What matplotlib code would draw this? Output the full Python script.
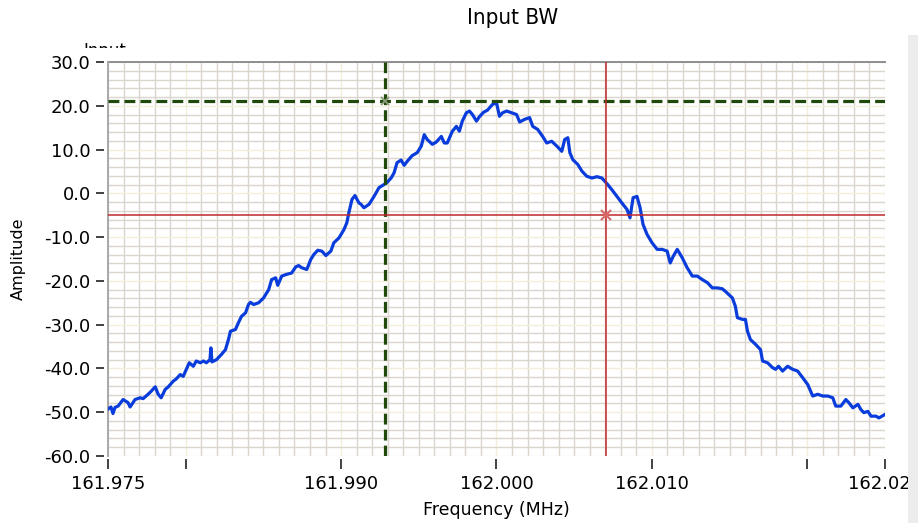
import matplotlib
matplotlib.use('Agg')
import matplotlib.pyplot as plt
import numpy as np
from matplotlib.patches import Rectangle
from matplotlib.transforms import Bbox

# Trace: offset from 162.000 MHz (kHz) and amplitude
offset_khz = [
    -25.00, -24.81, -24.68, -24.55, -24.35, -24.03, -23.71, -23.58, -23.26, -22.93,
    -22.74, -22.42, -22.22, -21.96, -21.77, -21.58, -21.32, -21.12, -20.80, -20.61,
    -20.35, -20.16, -19.96, -19.77, -19.51, -19.32, -19.06, -18.86, -18.67, -18.44,
    -18.38, -18.31, -18.02, -17.70, -17.44, -17.25, -17.12, -16.80, -16.60, -16.41,
    -16.15, -15.96, -15.83, -15.63, -15.31, -14.99, -14.66, -14.47, -14.21, -14.08,
    -13.82, -13.50, -13.18, -12.92, -12.73, -12.53, -12.21, -11.95, -11.76, -11.50,
    -11.24, -10.98, -10.66, -10.47, -10.14, -9.82, -9.63, -9.50, -9.30, -9.11,
    -8.85, -8.72, -8.53, -8.20, -7.88, -7.56, -7.24, -7.04, -6.78, -6.59,
    -6.40, -6.14, -5.94, -5.75, -5.43, -5.10, -4.84, -4.65, -4.46, -4.13,
    -3.88, -3.55, -3.36, -3.17, -2.84, -2.58, -2.39, -2.20, -1.94, -1.74,
    -1.55, -1.29, -1.10, -0.84, -0.58, -0.26, 0.00, 0.19, 0.39, 0.65,
    0.97, 1.29, 1.49, 1.81, 2.13, 2.33, 2.65, 2.97, 3.23, 3.55,
    3.88, 4.20, 4.39, 4.59, 4.72, 4.91, 5.23, 5.49, 5.81, 6.14,
    6.46, 6.78, 7.11, 7.43, 7.75, 8.07, 8.40, 8.59, 8.79, 9.04,
    9.24, 9.43, 9.69, 10.01, 10.34, 10.66, 10.98, 11.18, 11.37, 11.63,
    11.95, 12.27, 12.60, 12.92, 13.24, 13.57, 13.89, 14.21, 14.53, 14.73,
    15.18, 15.37, 15.50, 15.83, 16.02, 16.15, 16.34, 16.67, 16.99, 17.12,
    17.44, 17.76, 17.96, 18.15, 18.41, 18.73, 19.06, 19.38, 19.70, 20.03,
    20.35, 20.67, 20.99, 21.32, 21.64, 21.83, 22.16, 22.48, 22.67, 22.93,
    23.26, 23.45, 23.64, 23.90, 24.10, 24.42, 24.61, 25.00,
]
amplitude = [
    -49.3, -48.8, -50.3, -48.9, -48.6, -47.1, -47.8, -48.8, -47.1, -46.7,
    -46.9, -45.9, -45.2, -44.2, -45.9, -46.7, -44.8, -44.2, -42.9, -42.4,
    -41.4, -41.8, -40.2, -38.7, -39.5, -38.3, -38.7, -38.3, -38.7, -38.0,
    -35.3, -38.5, -38.0, -36.8, -35.7, -33.4, -31.5, -31.1, -29.5, -28.1,
    -27.3, -25.4, -24.9, -25.4, -25.0, -23.9, -22.0, -19.7, -19.3, -21.0,
    -18.9, -18.5, -18.2, -16.8, -16.5, -17.0, -17.4, -15.1, -14.0, -13.0,
    -13.2, -14.2, -13.2, -11.3, -10.2, -8.3, -6.7, -4.4, -1.4, -0.5,
    -2.2, -2.5, -3.3, -2.5, -0.7, 1.3, 2.0, 2.5, 3.5, 4.7,
    7.0, 7.6, 6.4, 7.3, 8.6, 9.3, 10.8, 13.4, 12.3, 11.2,
    11.7, 13.0, 11.5, 11.5, 14.2, 15.3, 14.2, 16.5, 18.4, 18.8,
    18.0, 16.5, 17.5, 18.5, 19.0, 20.3, 20.7, 17.6, 18.4, 18.8,
    18.4, 18.0, 16.3, 16.9, 17.3, 15.3, 14.6, 13.0, 11.5, 11.9,
    10.8, 9.6, 12.3, 12.7, 9.3, 7.7, 6.6, 5.1, 3.9, 3.5,
    3.8, 3.5, 2.2, 0.8, -0.7, -2.2, -3.7, -5.6, -1.0, -0.7,
    -3.3, -7.1, -9.4, -11.3, -12.8, -12.8, -13.2, -15.9, -14.4, -12.8,
    -14.7, -17.0, -18.9, -18.9, -19.7, -20.4, -21.6, -21.6, -21.8, -22.4,
    -23.9, -25.8, -28.4, -28.8, -28.8, -31.5, -33.4, -34.5, -35.7, -38.3,
    -38.7, -39.8, -40.2, -39.5, -40.6, -39.5, -40.2, -40.6, -42.1, -43.7,
    -46.3, -45.9, -46.3, -46.3, -46.7, -48.6, -48.6, -47.1, -47.8, -49.0,
    -48.2, -49.4, -50.1, -49.8, -50.9, -50.9, -51.3, -50.5,
]
center_mhz = 162.0

# Cursors (green = cursor 1, red = cursor 2)
cursor1_freq = 161.99283
cursor1_amp = 21.2
cursor2_freq = 162.00704
cursor2_amp = -5.0

x_range = (161.975, 162.025)
y_range = (-60.0, 30.0)
x_ticks = [161.975, 161.980, 161.990, 162.000, 162.010, 162.020, 162.025]
x_tick_labels = ['161.975', '', '161.990', '162.000', '162.010', '', '162.025']
y_ticks = [-60, -50, -40, -30, -20, -10, 0, 10, 20, 30]

freq_mhz = center_mhz + np.array(offset_khz) / 1000.0

W, H = 918, 523
fig = plt.figure(figsize=(W / 100, H / 100), dpi=100)
ax = fig.add_axes([108 / W, 1 - 456 / H, (885 - 108) / W, (456 - 62) / H])

# grid: gray every 1 kHz / 2 units, cream at the major positions
ax.set_xlim(*x_range)
ax.set_ylim(*y_range)
ax.set_xticks(x_ticks)
ax.set_xticklabels(x_tick_labels)
ax.set_xticks(np.arange(161.975, 162.0251, 0.001), minor=True)
ax.set_yticks(y_ticks)
ax.set_yticklabels([f'{v:.1f}' for v in y_ticks])
ax.set_yticks(np.arange(-60, 31, 2), minor=True)
ax.grid(True, which='minor', color='#DAD6CD', linewidth=1.0)
ax.grid(True, which='major', color='#F2EEDB', linewidth=1.0)
ax.set_axisbelow(True)

ax.tick_params(which='minor', length=0)
ax.tick_params(axis='y', which='major', length=6, width=1.3, color='#333333',
               pad=3.5, labelsize=13)
ax.tick_params(axis='x', which='major', length=7, width=1.3, color='#333333',
               pad=4, labelsize=13)

# ticks sit a few pixels away from the plot frame
ax.spines['left'].set_position(('outward', 3))
ax.spines['bottom'].set_position(('outward', 2.5))
for side in ['left', 'bottom', 'right']:
    ax.spines[side].set_visible(False)
ax.spines['top'].set_color('#8E8E8E')
ax.spines['top'].set_linewidth(1.4)
ax.plot([0, 0], [0, 1], transform=ax.transAxes, color='#A8A8A8', lw=1.4,
        clip_on=False, zorder=3)

# trace
ax.plot(freq_mhz, amplitude, color='#0A3CDC', linewidth=2.3, zorder=4)

# cursors
ax.axvline(cursor1_freq, color='#1F4A0C', linewidth=2.3, dashes=(3.4, 1.6), zorder=5)
ax.axhline(cursor1_amp, color='#1F4A0C', linewidth=2.3, dashes=(3.4, 1.6), zorder=5)
ax.axvline(cursor2_freq, color='#C0282A', linewidth=1.1, zorder=5)
ax.axhline(cursor2_amp, color='#C0282A', linewidth=1.1, zorder=5)
ax.plot(cursor1_freq, cursor1_amp, marker='x', color='#8C9C7C', markersize=6,
        markeredgewidth=1.3, zorder=6)
ax.plot(cursor2_freq, cursor2_amp, marker='x', color='#D86A6A', markersize=7,
        markeredgewidth=1.5, zorder=6)

ax.set_xlabel('Frequency (MHz)', fontsize=12.5, va='center')
ax.xaxis.set_label_coords(0.5, (456 - 510) / 394)
ax.set_ylabel('Amplitude', fontsize=11.5, va='center')
ax.yaxis.set_label_coords((18 - 108) / 777, 0.5)

fig.text(513 / W, 1 - 18 / H, 'Input BW', ha='center', va='center', fontsize=16,
         family=['Liberation Sans Narrow', 'DejaVu Sans'], fontstretch='condensed')

# plot name label, mostly hidden behind the graph
name = fig.text(105 / W, 1 - 56 / H, 'Input', ha='center', va='baseline', fontsize=12)
name.set_clip_box(Bbox.from_extents(0, H - 48, W, H))
name.set_clip_on(True)

# scrollbar strip on the right edge
fig.add_artist(Rectangle((908 / W, 0), 10 / W, 1 - 35 / H, transform=fig.transFigure,
                         facecolor='#ECECEC', edgecolor='none', zorder=10))

fig.savefig('out.png', dpi=100)
